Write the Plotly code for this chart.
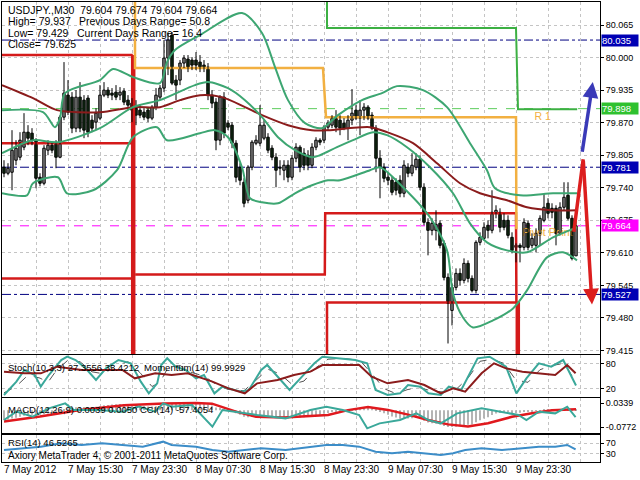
import plotly.graph_objects as go

FONT = "Liberation Sans, Arial, sans-serif"

# ---------------- candles (30-min bars, bar 0 = 7 May 07:30) ----------------
bars = list(range(144))
opens = [79.781, 79.769, 79.771, 79.795, 79.801, 79.821, 79.851, 79.849, 79.835, 79.761,
         79.749, 79.815, 79.825, 79.829, 79.801, 79.881, 79.925, 79.921, 79.859, 79.921,
         79.915, 79.919, 79.875, 79.871, 79.879, 79.925, 79.935, 79.929, 79.931, 79.925,
         79.933, 79.915, 79.909, 79.899, 79.895, 79.891, 79.895, 79.879, 79.901, 79.921,
         79.939, 79.999, 80.045, 79.955, 79.955, 79.989, 79.997, 79.995, 79.995, 79.991,
         79.985, 79.981, 79.925, 79.911, 79.835, 79.921, 79.869, 79.865, 79.829, 79.781,
         79.751, 79.715, 79.781, 79.829, 79.829, 79.839, 79.841, 79.819, 79.801, 79.781,
         79.775, 79.785, 79.761, 79.799, 79.821, 79.809, 79.805, 79.785, 79.821, 79.835,
         79.835, 79.861, 79.865, 79.879, 79.875, 79.869, 79.859, 79.875, 79.895, 79.879,
         79.895, 79.901, 79.885, 79.859, 79.799, 79.781, 79.761, 79.755, 79.751, 79.755,
         79.729, 79.781, 79.769, 79.781, 79.797, 79.741, 79.671, 79.655, 79.655, 79.669,
         79.629, 79.561, 79.495, 79.541, 79.569, 79.555, 79.589, 79.559, 79.535, 79.631,
         79.639, 79.665, 79.655, 79.689, 79.691, 79.675, 79.675, 79.641, 79.621, 79.625,
         79.621, 79.669, 79.625, 79.625, 79.649, 79.675, 79.709, 79.699, 79.699, 79.649,
         79.701, 79.725, 79.679, 79.604]
highs = [79.795, 79.789, 79.855, 79.835, 79.851, 79.889, 79.865, 79.859, 79.839, 79.769,
         79.825, 79.835, 79.831, 79.835, 79.885, 79.991, 79.955, 79.931, 79.935, 79.951,
         79.925, 79.925, 79.885, 79.899, 79.945, 79.951, 79.941, 79.939, 79.945, 79.941,
         79.939, 79.925, 79.919, 79.915, 79.905, 79.899, 79.901, 79.905, 79.939, 79.945,
         80.035, 80.049, 80.051, 79.965, 79.995, 80.005, 80.005, 80.001, 80.011, 80.005,
         79.995, 79.989, 79.935, 79.919, 79.925, 79.931, 79.875, 79.871, 79.835, 79.789,
         79.759, 79.785, 79.835, 79.845, 79.905, 79.875, 79.849, 79.825, 79.809, 79.795,
         79.795, 79.795, 79.805, 79.829, 79.825, 79.819, 79.815, 79.829, 79.841, 79.839,
         79.865, 79.875, 79.885, 79.895, 79.885, 79.879, 79.885, 79.937, 79.905, 79.915,
         79.909, 79.905, 79.891, 79.865, 79.815, 79.789, 79.771, 79.763, 79.759, 79.765,
         79.795, 79.789, 79.809, 79.809, 79.805, 79.749, 79.679, 79.679, 79.695, 79.675,
         79.635, 79.569, 79.549, 79.579, 79.579, 79.599, 79.595, 79.565, 79.635, 79.651,
         79.671, 79.675, 79.735, 79.705, 79.699, 79.689, 79.685, 79.651, 79.629, 79.629,
         79.679, 79.675, 79.649, 79.659, 79.685, 79.729, 79.719, 79.709, 79.705, 79.711,
         79.751, 79.751, 79.685, 79.674]
lows = [79.761, 79.765, 79.735, 79.785, 79.795, 79.815, 79.825, 79.825, 79.739, 79.743,
        79.745, 79.805, 79.809, 79.779, 79.799, 79.875, 79.885, 79.849, 79.851, 79.851,
        79.839, 79.841, 79.851, 79.855, 79.875, 79.921, 79.919, 79.915, 79.915, 79.915,
        79.905, 79.895, 79.871, 79.865, 79.879, 79.875, 79.871, 79.875, 79.895, 79.915,
        79.931, 79.965, 79.945, 79.915, 79.945, 79.979, 79.971, 79.975, 79.975, 79.971,
        79.971, 79.915, 79.899, 79.815, 79.825, 79.839, 79.855, 79.819, 79.751, 79.745,
        79.701, 79.709, 79.775, 79.825, 79.823, 79.835, 79.809, 79.795, 79.741, 79.765,
        79.755, 79.751, 79.755, 79.791, 79.771, 79.775, 79.775, 79.779, 79.815, 79.825,
        79.829, 79.855, 79.859, 79.851, 79.845, 79.855, 79.835, 79.865, 79.875, 79.845,
        79.875, 79.875, 79.855, 79.771, 79.719, 79.751, 79.745, 79.725, 79.725, 79.721,
        79.721, 79.761, 79.763, 79.775, 79.735, 79.665, 79.605, 79.645, 79.635, 79.619,
        79.555, 79.429, 79.465, 79.535, 79.545, 79.549, 79.551, 79.531, 79.529, 79.625,
        79.635, 79.639, 79.649, 79.679, 79.651, 79.655, 79.639, 79.609, 79.591, 79.591,
        79.615, 79.615, 79.619, 79.611, 79.625, 79.671, 79.679, 79.679, 79.625, 79.645,
        79.695, 79.675, 79.595, 79.604]
closes = [79.769, 79.779, 79.815, 79.819, 79.835, 79.851, 79.839, 79.835, 79.759, 79.749,
          79.819, 79.825, 79.815, 79.801, 79.881, 79.929, 79.891, 79.859, 79.921, 79.859,
          79.855, 79.851, 79.859, 79.889, 79.925, 79.935, 79.925, 79.925, 79.921, 79.931,
          79.911, 79.905, 79.895, 79.885, 79.885, 79.881, 79.879, 79.901, 79.925, 79.939,
          79.999, 80.035, 79.949, 79.945, 79.989, 79.999, 79.981, 79.985, 79.985, 79.981,
          79.979, 79.925, 79.909, 79.835, 79.921, 79.849, 79.861, 79.829, 79.761, 79.755,
          79.709, 79.781, 79.831, 79.835, 79.865, 79.865, 79.815, 79.801, 79.775, 79.779,
          79.785, 79.761, 79.799, 79.821, 79.781, 79.785, 79.785, 79.821, 79.835, 79.831,
          79.861, 79.869, 79.879, 79.861, 79.859, 79.859, 79.875, 79.889, 79.879, 79.895,
          79.901, 79.879, 79.859, 79.799, 79.781, 79.759, 79.755, 79.731, 79.735, 79.729,
          79.785, 79.769, 79.785, 79.797, 79.741, 79.671, 79.655, 79.669, 79.667, 79.625,
          79.561, 79.509, 79.541, 79.569, 79.555, 79.589, 79.559, 79.535, 79.631, 79.641,
          79.661, 79.655, 79.691, 79.695, 79.661, 79.661, 79.645, 79.615, 79.625, 79.621,
          79.671, 79.621, 79.639, 79.649, 79.679, 79.701, 79.689, 79.691, 79.649, 79.701,
          79.721, 79.679, 79.599, 79.664]

# ---------------- overlays on the price window ----------------
bb_upper_x = [-0.5, 9.75, 12.75, 14, 15.25, 24, 27.25, 32.25, 39, 40.75, 42.75, 49, 59.5, 64.5, 67.75,
              71, 75.25, 79.5, 83.5, 89.5, 94.5, 98.25, 104.75, 110.75, 116.5, 120.75, 122.75, 129,
              137.25, 143.25]
bb_upper_y = [79.895, 79.891, 79.861, 79.879, 79.929, 79.955, 79.977, 79.961, 79.949, 79.991, 80.015,
              80.045, 80.089, 80.049, 79.981, 79.915, 79.869, 79.859, 79.885, 79.915, 79.929, 79.943,
              79.935, 79.901, 79.829, 79.775, 79.739, 79.725, 79.729, 79.729]
bb_mid_x = [-0.5, 7.25, 13.5, 24, 32.25, 39, 47.75, 51, 56, 60.25, 64.5, 68.5, 72.75, 77, 79, 83.25,
            87.25, 92.25, 95.75, 100.75, 106.5, 112.25, 116.5, 120.75, 125.75, 130.75, 137.25, 143.25]
bb_mid_y = [79.809, 79.835, 79.831, 79.859, 79.901, 79.915, 79.945, 79.951, 79.939, 79.915, 79.881,
            79.841, 79.815, 79.801, 79.805, 79.821, 79.835, 79.851, 79.845, 79.821, 79.781, 79.729,
            79.669, 79.631, 79.615, 79.611, 79.641, 79.661]
bb_low_x = [-0.5, 5.75, 7.25, 13.5, 15.75, 22.25, 28.25, 32.25, 38.25, 40.75, 49, 52.75, 56, 59.5,
            61.5, 64.5, 68.5, 72.75, 77, 81, 84, 91.5, 94, 99.75, 106.5, 110.75, 112.25, 114.75,
            117.25, 122.25, 127.25, 130.75, 135.75, 139.75, 143.25]
bb_low_y = [79.729, 79.725, 79.749, 79.761, 79.729, 79.735, 79.775, 79.841, 79.861, 79.835, 79.849,
            79.855, 79.841, 79.781, 79.719, 79.711, 79.709, 79.729, 79.745, 79.755, 79.755, 79.775,
            79.781, 79.741, 79.681, 79.615, 79.529, 79.481, 79.461, 79.475, 79.499, 79.535, 79.601,
            79.611, 79.595]
ma_x = [-0.5, 7.25, 13.25, 24, 32.25, 39, 44, 49, 54.5, 60.25, 64.5, 71, 77, 81, 91.5, 95.75, 102.25,
        108.25, 114, 119, 125.75, 130.75, 137.25, 143.25]
ma_y = [79.945, 79.919, 79.895, 79.891, 79.901, 79.901, 79.915, 79.925, 79.921, 79.901, 79.885,
        79.865, 79.855, 79.855, 79.861, 79.851, 79.829, 79.789, 79.749, 79.729, 79.715, 79.701,
        79.695, 79.695]

# daily pivot levels (step lines), bar / price vertices
piv_red_a_x, piv_red_a_y = [-0.5, 32.2], [80.005, 80.005]
piv_red_b_x, piv_red_b_y = [-0.5, 31.8], [79.829, 79.829]
piv_red_c_x, piv_red_c_y = [-0.5, 31.8], [79.559, 79.559]
piv_red_d_x, piv_red_d_y = [32.8, 80.2, 80.3, 128.0, 128.1], [79.567, 79.567, 79.689, 79.689, 79.511]
piv_red_e_x, piv_red_e_y = [80.75, 80.75, 128.0], [79.40, 79.511, 79.511]
piv_drop_x = [32.3, 128.45]
piv_drop_top = [80.005, 79.513]
piv_or_x = [32.75, 32.75, 79.75, 80.5, 128.0, 128.1]
piv_or_y = [80.12, 79.979, 79.979, 79.881, 79.881, 79.657]
piv_gr_x = [80.75, 80.75, 128.0, 128.5, 143.3]
piv_gr_y = [80.12, 80.059, 80.059, 79.897, 79.897]
level_texts = ["R 1", "Pivot Point"]
level_text_x = [132.6, 129.6]
level_text_y = [79.881, 79.649]

hline_navy = [80.035, 79.781, 79.527]
hline_bid = 79.664
hline_green = 79.898
marker_prices = [80.035, 79.898, 79.781, 79.664, 79.527]
marker_colors = ["#0000b4", "#2fc12f", "#0000b4", "#ff00ff", "#0000b4"]

price_ticks = [80.065, 80.000, 79.935, 79.870, 79.805, 79.740, 79.675, 79.610, 79.545, 79.480, 79.415]
price_tick_text = ["80.065", "80.000", "79.935", "79.870", "79.805", "79.740", "79.675", "79.610",
                   "79.545", "79.480", "79.415"]
grid_bars = [8, 16, 24, 32, 40, 48, 56, 64, 72, 80, 88, 96, 104, 112, 120, 128, 136, 144]
label_bars = [0, 16, 32, 48, 64, 80, 96, 112, 128]
label_text = ["7 May 2012", "7 May 15:30", "7 May 23:30", "8 May 07:30", "8 May 15:30",
              "8 May 23:30", "9 May 07:30", "9 May 15:30", "9 May 23:30"]

# arrows (bar, price)
blue_arrow = [(144.5, 79.809), (147.2, 79.951)]
red_arrow = [(142.4, 79.649), (144.8, 79.797), (147.0, 79.507)]

# ---------------- sub windows ----------------
stoch_k_x = [0, 3.1, 5.1, 7.7, 9.2, 11.2, 14.3, 15.8, 17.9, 20.4, 23, 25.5, 28.6, 31.7, 34.2, 36.2,
             38.3, 39.3, 40.8, 42.9, 45.4, 48, 50, 52.6, 54.6, 59.2, 61.2, 64.3, 65.8, 68.4, 71.4,
             74.5, 77.6, 79.6, 83.7, 87.8, 90.8, 92.9, 95.9, 99, 101, 104.1, 106.1, 109.2, 111.2,
             114.3, 118.4, 121.4, 125.5, 128.1, 130.6, 133.7, 136.8, 139.8, 143]
stoch_k_y = [4.8, 36.5, 64.3, 52.4, 24.6, 52.4, 88.1, 96.0, 88.1, 68.3, 40.5, 68.3, 88.1, 80.2, 36.5,
             8.7, 32.5, 76.2, 92.1, 72.2, 64.3, 44.4, 52.4, 8.7, 24.6, 12.7, 16.7, 64.3, 76.2, 48.4,
             16.7, 48.4, 80.2, 96.0, 92.1, 88.1, 80.2, 16.7, 4.8, 8.7, 28.6, 24.6, 8.7, 4.8, 24.6,
             16.7, 92.1, 96.0, 72.2, 8.7, 44.4, 80.2, 72.2, 88.1, 27.4]
stoch_d_x = [0, 3, 6, 9, 11, 13, 16, 19, 22, 25, 28, 31, 34, 37, 39, 41, 44, 47, 50, 53, 56, 60, 63,
             66, 69, 72, 75, 78, 81, 85, 89, 92, 95, 98, 101, 104, 107, 110, 113, 116, 119, 122, 125,
             128, 131, 134, 137, 140, 143]
stoch_d_y = [10, 25, 52, 45, 35, 62, 88, 84, 60, 55, 75, 84, 58, 25, 35, 70, 75, 58, 50, 30, 18, 15,
             40, 66, 55, 30, 38, 70, 90, 92, 87, 55, 20, 8, 18, 22, 14, 12, 18, 45, 85, 90, 80, 40,
             35, 65, 75, 80, 35.4]
mom_x = [0, 5.1, 9.2, 13.3, 19.4, 24.5, 29.6, 32.7, 37.8, 41.9, 45.9, 52.1, 56.1, 60.2, 63.3, 68.4,
         72.5, 76.6, 79.6, 83.7, 88.8, 91.9, 95.9, 101, 105.1, 109.2, 112.3, 115.3, 119.4, 122.5,
         125.5, 129.6, 133.7, 137.8, 140.8, 142.9]
mom_y = [100.055, 99.992, 99.992, 100.246, 100.119, 100.119, 100.119, 99.801, 99.992, 99.928,
         99.992, 99.674, 99.420, 99.230, 99.611, 99.738, 99.928, 100.055, 100.309, 100.309, 100.309,
         99.865, 99.611, 99.738, 99.547, 99.230, 99.420, 99.293, 99.992, 100.373, 100.182, 100.055,
         99.992, 99.928, 100.309, 99.993]

macd_hist = [-0.045, -0.043, -0.038, -0.034, -0.030, -0.025, -0.022, -0.020, -0.020, -0.021,
             -0.018, -0.015, -0.013, -0.012, -0.005, 0.004, 0.008, 0.010, 0.014, 0.015,
             0.015, 0.015, 0.015, 0.017, 0.020, 0.023, 0.025, 0.027, 0.028, 0.029,
             0.029, 0.028, 0.026, 0.024, 0.022, 0.020, 0.018, 0.018, 0.019, 0.021,
             0.027, 0.033, 0.033, 0.032, 0.033, 0.034, 0.034, 0.034, 0.033, 0.032,
             0.031, 0.027, 0.022, 0.013, 0.012, 0.006, 0.002, -0.004, -0.013, -0.020,
             -0.030, -0.032, -0.031, -0.030, -0.026, -0.024, -0.025, -0.028, -0.032, -0.034,
             -0.035, -0.037, -0.036, -0.033, -0.033, -0.032, -0.031, -0.028, -0.024, -0.020,
             -0.016, -0.012, -0.008, -0.005, -0.003, -0.001, 0.002, 0.006, 0.008, 0.011,
             0.013, 0.013, 0.010, 0.002, -0.006, -0.014, -0.021, -0.028, -0.033, -0.039,
             -0.037, -0.038, -0.037, -0.036, -0.040, -0.048, -0.056, -0.060, -0.062, -0.066,
             -0.072, -0.077, -0.077, -0.076, -0.074, -0.070, -0.067, -0.066, -0.055, -0.046,
             -0.038, -0.032, -0.022, -0.015, -0.012, -0.010, -0.010, -0.012, -0.013, -0.011,
             -0.006, -0.005, -0.004, -0.002, 0.001, 0.005, 0.006, 0.006, 0.004, 0.005,
             0.008, 0.007, 0.002, 0.0039]
macd_sig_x = [0, 9, 19, 30, 40, 48, 52, 58, 63, 70, 81, 86, 91, 96, 101, 106, 111, 116, 121, 127,
              132, 137, 143]
macd_sig_y = [-0.052, -0.029, 0.002, 0.024, 0.032, 0.034, 0.031, -0.006, -0.030, -0.033, -0.022,
              0.001, 0.015, 0.002, -0.020, -0.045, -0.065, -0.075, -0.060, -0.030, -0.014, 0.000,
              0.005]
cci_x = [0, 3.1, 7.2, 11.2, 15.3, 17.4, 23.5, 29.6, 33.7, 37.8, 39.8, 41.9, 47, 52.1, 54.6, 60.2,
         63.3, 70.4, 76.6, 80.6, 84.7, 88.8, 90.8, 93.9, 99, 103.1, 106.1, 109.2, 113.3, 119.4,
         124.5, 128.6, 130.6, 133.7, 137.8, 140.8, 142.9]
cci_y = [-114, 53, -47, 119, 219, 86, 86, 53, 153, 53, 219, 153, 186, -247, 86, 19, -14, -81, 86,
         153, 86, -14, -281, -181, -114, 19, -114, -181, 19, 119, 53, -14, -114, 53, 19, 153, -57]
rsi_x = [0, 5.1, 9.2, 14.3, 19.4, 24.5, 29.6, 34.7, 39.8, 41.9, 48, 52.1, 56.1, 60.2, 64.3, 70.4,
         76.6, 80.6, 84.7, 88.8, 92.9, 97, 101, 106.1, 109.2, 112.3, 115.3, 119.4, 124.5, 129.6,
         133.7, 137.8, 140.8, 142.9]
rsi_y = [44.4, 50.6, 56.8, 69.1, 63.0, 69.1, 63.0, 56.8, 75.3, 63.0, 56.8, 44.4, 38.3, 44.4, 50.6,
         44.4, 56.8, 63.0, 63.0, 56.8, 38.3, 32.1, 38.3, 32.1, 25.9, 32.1, 44.4, 50.6, 44.4, 50.6,
         56.8, 56.8, 63.0, 46.5]

# ---------------- build figure ----------------
fig = go.Figure()

BB = "#3da672"
MA = "#8b1c1c"
RED = "#d41a1a"
ORANGE = "#f2b041"
PGREEN = "#3cb043"
TEAL = "#3aa89a"

# level labels (behind candles)
fig.add_trace(go.Scatter(x=level_text_x, y=level_text_y, text=level_texts, mode="text",
                         textposition="middle right",
                         textfont=dict(color=ORANGE, size=10.5, family=FONT), hoverinfo="skip"))

# pivot step lines
for xs, ys in [(piv_red_a_x, piv_red_a_y), (piv_red_b_x, piv_red_b_y), (piv_red_c_x, piv_red_c_y),
               (piv_red_d_x, piv_red_d_y), (piv_red_e_x, piv_red_e_y)]:
    fig.add_trace(go.Scatter(x=xs, y=ys, mode="lines", line=dict(color=RED, width=2.5)))
for xb, yt in zip(piv_drop_x, piv_drop_top):
    fig.add_trace(go.Scatter(x=[xb, xb], y=[yt, 79.40], mode="lines", line=dict(color=RED, width=4.5)))
fig.add_trace(go.Scatter(x=piv_or_x, y=piv_or_y, mode="lines", line=dict(color=ORANGE, width=2.5)))
fig.add_trace(go.Scatter(x=piv_gr_x, y=piv_gr_y, mode="lines", line=dict(color=PGREEN, width=2)))

# candle wicks
wx, wy = [], []
for i, h, l in zip(bars, highs, lows):
    wx += [i, i, None]
    wy += [l, h, None]
fig.add_trace(go.Scatter(x=wx, y=wy, mode="lines", line=dict(color="black", width=1),
                         hoverinfo="skip"))
# candle bodies
base = [min(o, c) for o, c in zip(opens, closes)]
height = [max(abs(c - o), 0.0008) for o, c in zip(opens, closes)]
colors = ["white" if c >= o else "#1f4f22" for o, c in zip(opens, closes)]
fig.add_trace(go.Bar(x=bars, y=height, base=base, width=0.62,
                     marker=dict(color=colors, line=dict(color="black", width=1))))

# bands and MA
fig.add_trace(go.Scatter(x=ma_x, y=ma_y, mode="lines", line=dict(color=MA, width=2, shape="spline", smoothing=0.8)))
for xs, ys in [(bb_upper_x, bb_upper_y), (bb_mid_x, bb_mid_y), (bb_low_x, bb_low_y)]:
    fig.add_trace(go.Scatter(x=xs, y=ys, mode="lines",
                             line=dict(color=BB, width=2, shape="spline", smoothing=0.8)))

# stochastic + momentum
fig.add_trace(go.Scatter(x=mom_x, y=mom_y, mode="lines", line=dict(color=MA, width=2),
                         xaxis="x2", yaxis="y5"))
fig.add_trace(go.Scatter(x=stoch_d_x, y=stoch_d_y, mode="lines",
                         line=dict(color="#555555", width=1, dash="dash"), xaxis="x2", yaxis="y2"))
fig.add_trace(go.Scatter(x=stoch_k_x, y=stoch_k_y, mode="lines", line=dict(color=TEAL, width=2),
                         xaxis="x2", yaxis="y2"))

# MACD + CCI
fig.add_trace(go.Bar(x=bars, y=macd_hist, width=0.4, marker=dict(color="#b4b4b4", line=dict(width=0)),
                     xaxis="x3", yaxis="y3"))
fig.add_trace(go.Scatter(x=macd_sig_x, y=macd_sig_y, mode="lines", line=dict(color="#e0191e", width=2.5),
                         xaxis="x3", yaxis="y3"))
fig.add_trace(go.Scatter(x=cci_x, y=cci_y, mode="lines", line=dict(color=TEAL, width=2),
                         xaxis="x3", yaxis="y6"))

# RSI
fig.add_trace(go.Scatter(x=rsi_x, y=rsi_y, mode="lines", line=dict(color="#3c8dc8", width=2),
                         xaxis="x4", yaxis="y4"))

# horizontal lines
shapes = []
for p in hline_navy:
    shapes.append(dict(type="line", xref="x domain", yref="y", x0=0, x1=1, y0=p, y1=p,
                       line=dict(color="#000080", width=1, dash="dashdot"), layer="below"))
shapes.append(dict(type="line", xref="x domain", yref="y", x0=0, x1=1, y0=hline_bid, y1=hline_bid,
                   line=dict(color="#ff00ff", width=1, dash="dash"), layer="below"))
shapes.append(dict(type="line", xref="x domain", yref="y", x0=0, x1=1, y0=hline_green, y1=hline_green,
                   line=dict(color="#5ccc5c", width=1, dash="dash"), layer="below"))

# layout axes
gx = dict(range=[-0.5, 149], showgrid=True, gridcolor="#c4c4c4", griddash="3px,3px", gridwidth=1,
          tickvals=grid_bars, showticklabels=False, ticks="", zeroline=False, showline=True,
          linecolor="black", linewidth=1, mirror=True)

def yax(domain, rng, tv, tt, grid=True):
    return dict(domain=domain, range=rng, side="right", tickvals=tv, ticktext=tt, ticks="outside",
                ticklen=3, tickcolor="black", showgrid=grid, gridcolor="#c4c4c4", griddash="3px,3px",
                zeroline=False, showline=True, linecolor="black", linewidth=1, mirror=True,
                automargin=False, tickfont=dict(family=FONT, size=9, color="black"))

fig.update_layout(
    width=640, height=480, margin=dict(l=2, r=40, t=2, b=18, autoexpand=False),
    paper_bgcolor="white", plot_bgcolor="white", showlegend=False, barmode="overlay",
    shapes=shapes,
    xaxis=dict(gx, anchor="y"),
    xaxis2=dict(gx, anchor="y2", matches="x"),
    xaxis3=dict(gx, anchor="y3", matches="x"),
    xaxis4=dict(gx, anchor="y4", matches="x"),
    yaxis=dict(yax([0.2348, 1], [79.408, 80.111], price_ticks, price_tick_text), anchor="x"),
    yaxis2=dict(yax([0.1413, 0.2326], [0, 100], [80, 20], ["80", "20"]), anchor="x2"),
    yaxis5=dict(overlaying="y2", anchor="x2", range=[99.09, 100.69], visible=False),
    yaxis3=dict(yax([0.063, 0.1391], [-0.105, 0.057], [0.0339, -0.0772], ["0.0339", "-0.0772"], grid=False),
                anchor="x3"),
    yaxis6=dict(overlaying="y3", anchor="x3", range=[-374, 326], visible=False),
    yaxis4=dict(yax([0, 0.0587], [0, 100], [70, 30], ["70", "30"]), anchor="x4"),
    font=dict(family=FONT, size=10, color="black"),
)

ann = []
def px_text(text, px, py, size=10):
    ann.append(dict(xref="paper", yref="paper", x=(px - 2) / 598, y=(462 - py) / 460, text=text,
                    showarrow=False, xanchor="left", yanchor="middle",
                    font=dict(family=FONT, size=size, color="black")))

px_text("USDJPY.,M30  79.604 79.674 79.604 79.664", 6, 10, 10.5)
px_text("High= 79.937", 6, 21, 10.5)
px_text("Previous Days Range= 50.8", 77, 21, 10.5)
px_text("Low= 79.429", 6, 33, 10.5)
px_text("Current Days Range= 16.4", 75, 33, 10.5)
px_text("Close= 79.625", 6, 44, 10.5)
px_text("Stoch(10,3,3) 27.3556 35.4212", 6, 367, 9.5)
px_text("Momentum(14) 99.9929", 142, 367, 9.5)
px_text("MACD(12,26,9) 0.0039 0.0050", 6, 409, 9.5)
px_text("CCI(14) -57.4054", 138, 409, 9.5)
px_text("RSI(14) 46.5265", 6, 442, 9.5)
px_text("Axiory MetaTrader 4, © 2001-2011 MetaQuotes Software Corp.", 6, 455)

for b, t in zip(label_bars, label_text):
    ann.append(dict(xref="x4", yref="paper", x=b, y=(462 - 470) / 460, text=t, showarrow=False,
                    xanchor="left", yanchor="middle", xshift=-2,
                    font=dict(family=FONT, size=10, color="black")))

for p, c in zip(marker_prices, marker_colors):
    ann.append(dict(xref="paper", yref="y", x=1, y=p, xanchor="left", yanchor="middle", xshift=1,
                    text="%.3f" % p, showarrow=False, bgcolor=c, width=36, height=11, borderpad=0,
                    align="left", font=dict(family=FONT, size=9.5, color="white")))

# arrows
ann.append(dict(xref="x", yref="y", axref="x", ayref="y", x=blue_arrow[1][0], y=blue_arrow[1][1],
                ax=blue_arrow[0][0], ay=blue_arrow[0][1], text="", showarrow=True, arrowhead=2,
                arrowsize=0.9, arrowwidth=3.5, arrowcolor="#3a3ab8"))
ann.append(dict(xref="x", yref="y", axref="x", ayref="y", x=red_arrow[1][0], y=red_arrow[1][1],
                ax=red_arrow[0][0], ay=red_arrow[0][1], text="", showarrow=True, arrowhead=0,
                arrowwidth=3.5, arrowcolor="#dc1e1e"))
ann.append(dict(xref="x", yref="y", axref="x", ayref="y", x=red_arrow[2][0], y=red_arrow[2][1],
                ax=red_arrow[1][0], ay=red_arrow[1][1], text="", showarrow=True, arrowhead=2,
                arrowsize=0.9, arrowwidth=3.5, arrowcolor="#dc1e1e"))

fig.update_layout(annotations=ann)
fig.write_html("out.html", config={"displayModeBar": False},
               post_script="document.body.style.margin='0px';document.body.style.padding='0px';"
                           "document.body.style.overflow='hidden';")
